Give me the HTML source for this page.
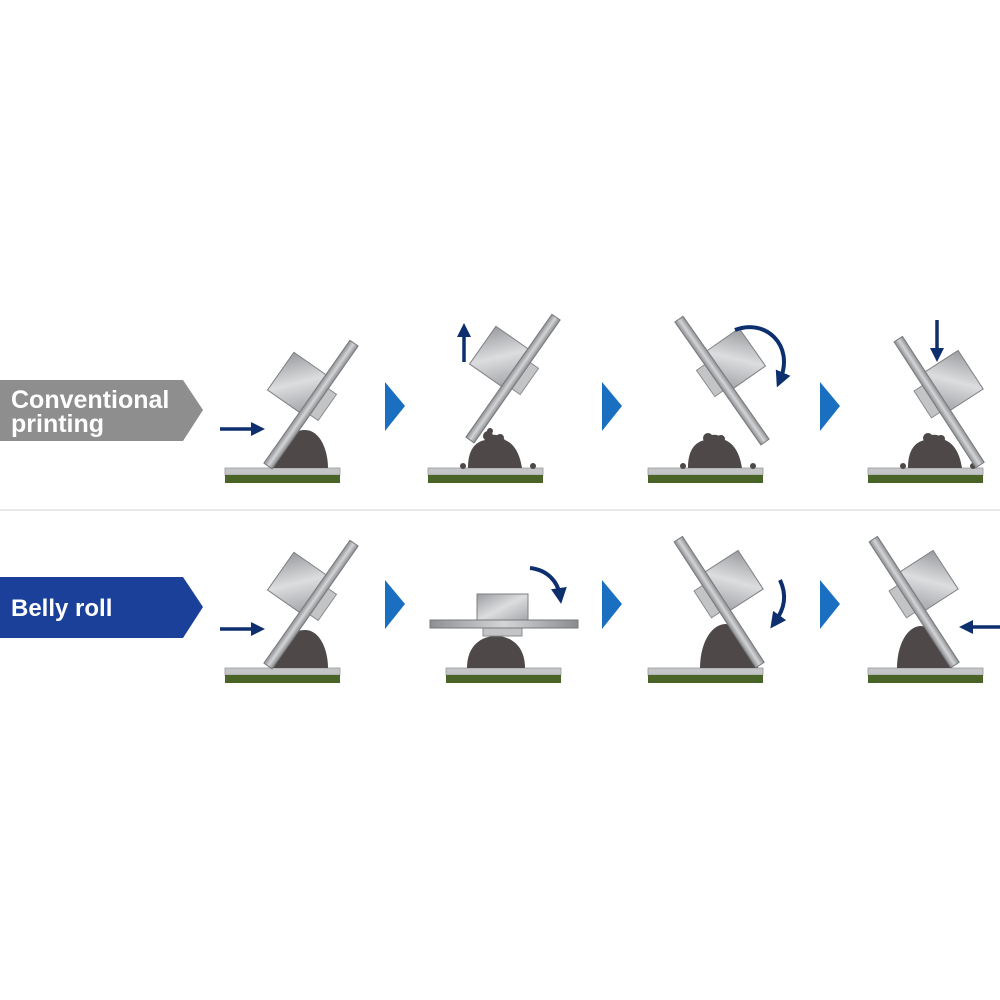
<!DOCTYPE html>
<html><head><meta charset="utf-8"><style>
html,body{margin:0;padding:0;background:#fff;}
svg{display:block;}
text{font-family:"Liberation Sans",sans-serif;font-weight:bold;fill:#fff;}
</style></head><body>
<svg width="1000" height="1000" viewBox="0 0 1000 1000">
<defs>
<linearGradient id="gb" x1="0" y1="0" x2="1" y2="0">
<stop offset="0" stop-color="#8d8f92"/><stop offset="0.5" stop-color="#d4d5d7"/><stop offset="1" stop-color="#8a8c8f"/></linearGradient>
<linearGradient id="gh" x1="0" y1="0" x2="1" y2="1">
<stop offset="0" stop-color="#9a9c9f"/><stop offset="0.5" stop-color="#dcdddf"/><stop offset="1" stop-color="#a3a5a8"/></linearGradient>
<g id="sq">
<rect x="-44" y="-108" width="41" height="46" fill="url(#gh)" stroke="#7d7f82" stroke-width="1"/>
<rect x="3" y="-98" width="12" height="32" fill="#c3c4c6" stroke="#8a8c8f" stroke-width="1"/>
<rect x="-5" y="-150" width="10" height="150" fill="url(#gb)" stroke="#77797c" stroke-width="1"/>
</g>
<g id="sub">
<rect x="0" y="0" width="115" height="7" fill="#c4c5c7" stroke="#9a9b9d" stroke-width="0.8"/>
<rect x="0" y="7" width="115" height="8" fill="#4a6428"/>
</g>
<marker id="ah" viewBox="0 0 10 10" refX="5" refY="5" markerWidth="4" markerHeight="4" orient="auto"><path d="M0,0 L10,5 L0,10 Z" fill="#0d2f6e"/></marker>
</defs>

<line x1="0" y1="510" x2="1000" y2="510" stroke="#e8e8e8" stroke-width="2"/>

<polygon points="0,380 183,380 203,410 183,441 0,441" fill="#8e8e8e"/>
<text x="11" y="408" font-size="25">Conventional</text>
<text x="11" y="432" font-size="25">printing</text>
<polygon points="0,577 183,577 203,607 183,638 0,638" fill="#1b409a"/>
<text x="11" y="616" font-size="24">Belly roll</text>

<g fill="#1a6fc0">
<polygon points="385,382 405,406 385,431"/>
<polygon points="602,382 622,406 602,431"/>
<polygon points="820,382 840,406 820,431"/>
<polygon points="385,580 405,604 385,629"/>
<polygon points="602,580 622,604 602,629"/>
<polygon points="820,580 840,604 820,629"/>
</g>

<!-- TOP ROW -->
<use href="#sub" x="225" y="468"/>
<path d="M272,468 C272,445 290,430 305,430 C320,430 328,450 328,468 Z" fill="#4f4849"/>
<use href="#sq" transform="translate(268,466) rotate(35)"/>
<line x1="220" y1="429" x2="258" y2="429" stroke="#0d2f6e" stroke-width="3.5" marker-end="url(#ah)"/>

<use href="#sub" x="428" y="468"/>
<path d="M468,468 C468,450 475,442 485,440 C490,432 500,434 505,440 C515,444 520,455 522,468 Z" fill="#4f4849"/>
<circle cx="488" cy="436" r="5" fill="#4f4849"/><circle cx="500" cy="438" r="4" fill="#4f4849"/><circle cx="490" cy="431" r="3" fill="#4f4849"/>
<circle cx="463" cy="466" r="3" fill="#4f4849"/><circle cx="533" cy="466" r="3" fill="#4f4849"/>
<use href="#sq" transform="translate(470,440) rotate(35)"/>
<line x1="464" y1="362" x2="464" y2="330" stroke="#0d2f6e" stroke-width="3.5" marker-end="url(#ah)"/>

<use href="#sub" x="648" y="468"/>
<path d="M688,468 C688,450 695,442 705,440 C710,432 720,434 725,440 C735,444 740,455 742,468 Z" fill="#4f4849"/>
<circle cx="708" cy="438" r="5" fill="#4f4849"/><circle cx="721" cy="439" r="4" fill="#4f4849"/>
<circle cx="683" cy="466" r="3" fill="#4f4849"/><circle cx="753" cy="466" r="3" fill="#4f4849"/>
<use href="#sq" transform="translate(765,442) scale(-1,1) rotate(35)"/>
<path d="M735,330 C765,318 795,345 780,380" fill="none" stroke="#0d2f6e" stroke-width="4" marker-end="url(#ah)"/>

<use href="#sub" x="868" y="468"/>
<path d="M908,468 C908,450 915,442 925,440 C930,432 940,434 945,440 C955,444 960,455 962,468 Z" fill="#4f4849"/>
<circle cx="928" cy="438" r="5" fill="#4f4849"/><circle cx="941" cy="439" r="4" fill="#4f4849"/>
<circle cx="903" cy="466" r="3" fill="#4f4849"/><circle cx="973" cy="466" r="3" fill="#4f4849"/>
<use href="#sq" transform="translate(980,465) scale(-1,1) rotate(33)"/>
<line x1="937" y1="320" x2="937" y2="355" stroke="#0d2f6e" stroke-width="3.5" marker-end="url(#ah)"/>

<!-- BOTTOM ROW -->
<use href="#sub" x="225" y="668"/>
<path d="M272,668 C272,645 290,630 305,630 C320,630 328,650 328,668 Z" fill="#4f4849"/>
<use href="#sq" transform="translate(268,666) rotate(35)"/>
<line x1="220" y1="629" x2="258" y2="629" stroke="#0d2f6e" stroke-width="3.5" marker-end="url(#ah)"/>

<use href="#sub" x="446" y="668"/>
<path d="M467,668 C467,645 482,636 496,636 C510,636 525,645 525,668 Z" fill="#4f4849"/>
<rect x="477" y="594" width="51" height="27" fill="url(#gh)" stroke="#7d7f82"/>
<rect x="483" y="628" width="39" height="8" fill="#c3c4c6" stroke="#8a8c8f"/>
<rect x="430" y="620" width="148" height="8" fill="url(#gb)" stroke="#77797c"/>
<path d="M530,568 C548,570 558,582 560,596" fill="none" stroke="#0d2f6e" stroke-width="4" marker-end="url(#ah)"/>

<use href="#sub" x="648" y="668"/>
<path d="M700,668 C700,645 710,625 725,624 C745,624 755,650 758,668 Z" fill="#4f4849"/>
<use href="#sq" transform="translate(760,665) scale(-1,1) rotate(33)"/>
<path d="M780,580 C787,595 785,608 775,622" fill="none" stroke="#0d2f6e" stroke-width="4" marker-end="url(#ah)"/>

<use href="#sub" x="868" y="668"/>
<path d="M897,668 C897,645 907,627 920,626 C935,626 945,650 952,668 Z" fill="#4f4849"/>
<use href="#sq" transform="translate(955,665) scale(-1,1) rotate(33)"/>
<line x1="1000" y1="627" x2="966" y2="627" stroke="#0d2f6e" stroke-width="3.5" marker-end="url(#ah)"/>
</svg>
</body></html>
